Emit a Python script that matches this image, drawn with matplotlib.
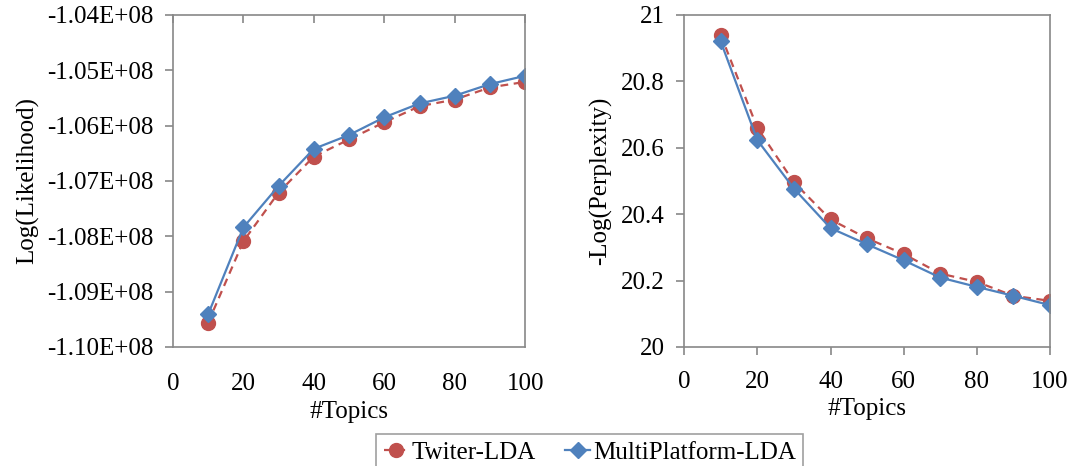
import matplotlib.pyplot as plt
from matplotlib.ticker import FuncFormatter

plt.rcParams['font.family'] = ['Liberation Serif', 'DejaVu Serif']

topics = [10, 20, 30, 40, 50, 60, 70, 80, 90, 100]

like_twiter = [-1.0956e8, -1.0809e8, -1.0721e8, -1.0656e8, -1.0625e8,
               -1.0594e8, -1.0565e8, -1.0553e8, -1.0531e8, -1.0521e8]
like_multi = [-1.0941e8, -1.0784e8, -1.0709e8, -1.0642e8, -1.0617e8,
              -1.0585e8, -1.0560e8, -1.0546e8, -1.0525e8, -1.0510e8]

perp_twiter = [20.94, 20.66, 20.496, 20.384, 20.327, 20.28, 20.221, 20.196, 20.154, 20.139]
perp_multi = [20.92, 20.623, 20.477, 20.358, 20.309, 20.261, 20.209, 20.181, 20.154, 20.126]

RED = '#C0504D'
BLUE = '#4F81BD'
GRAY = '#888888'
FS = 18

fig = plt.figure(figsize=(10.74, 4.66), dpi=100)
ax1 = fig.add_axes([0.161, 0.2554, 0.328, 0.7126])
ax2 = fig.add_axes([0.637, 0.2554, 0.3407, 0.7126])


def style(ax):
    for s in ax.spines.values():
        s.set_color(GRAY)
        s.set_linewidth(1.2)
    ax.tick_params(colors=GRAY, labelcolor='black', labelsize=FS, width=1.2)
    ax.set_xlim(0, 100)
    ax.set_xticks([0, 20, 40, 60, 80, 100])
    ax.set_xlabel('#Topics', fontsize=FS, labelpad=4)


def draw(ax, a, b):
    ax.plot(topics, a, color=RED, ls='--', lw=1.6, marker='o', ms=10,
            label='Twiter-LDA', dashes=(3.5, 2.5))
    ax.plot(topics, b, color=BLUE, lw=1.6, marker='D', ms=8,
            label='MultiPlatform-LDA')


draw(ax1, like_twiter, like_multi)
style(ax1)
ax1.set_ylim(-1.10e8, -1.04e8)
ax1.set_yticks([-1.10e8 + i * 1e6 for i in range(7)])
ax1.yaxis.set_major_formatter(FuncFormatter(lambda v, p: f'{v:.2E}'))
ax1.tick_params(axis='x', top=True, bottom=False, labeltop=False,
                labelbottom=True, direction='in', length=6, pad=19)
ax1.tick_params(axis='y', direction='out', length=6, pad=8)
ax1.set_ylabel('Log(Likelihood)', fontsize=FS, labelpad=6)

draw(ax2, perp_twiter, perp_multi)
style(ax2)
ax2.set_ylim(20, 21)
ax2.set_yticks([20, 20.2, 20.4, 20.6, 20.8, 21])
ax2.yaxis.set_major_formatter(FuncFormatter(lambda v, p: f'{v:g}'))
ax2.tick_params(axis='x', direction='out', length=6, pad=11)
ax2.tick_params(axis='y', direction='out', length=6, pad=8)
ax2.set_ylabel('-Log(Perplexity)', fontsize=FS, labelpad=6)

h, l = ax1.get_legend_handles_labels()
leg = fig.legend(h, l, loc='upper center', bbox_to_anchor=(0.549, 0.069),
                 ncol=2, fontsize=FS, frameon=True, fancybox=False,
                 handlelength=1.0, handletextpad=0.1, columnspacing=1.2,
                 borderaxespad=0, borderpad=0.3)
leg.get_frame().set_edgecolor(GRAY)
leg.get_frame().set_linewidth(1.2)

fig.savefig('out.png', dpi=100)
